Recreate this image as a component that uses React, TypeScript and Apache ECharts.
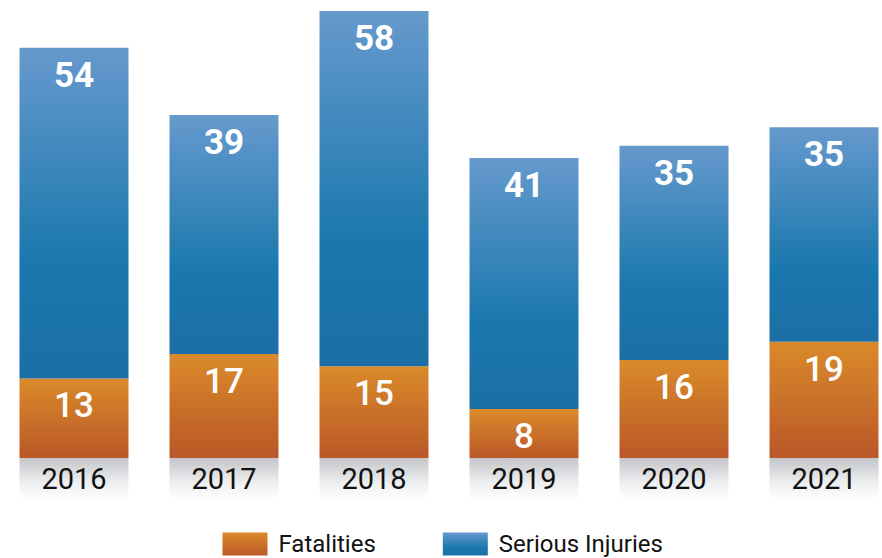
import React, { useEffect, useRef } from "react";
import * as echarts from "echarts";

const years = ["2016", "2017", "2018", "2019", "2020", "2021"];
const fatalities = [13, 17, 15, 8, 16, 19];
const seriousInjuries = [54, 39, 58, 41, 35, 35];

const FONT = "Roboto, sans-serif";

export default function App() {
  const ref = useRef<HTMLDivElement>(null);
  useEffect(() => {
    if (!ref.current) return;
    const chart = echarts.init(ref.current, null, { renderer: "svg" });
    const blue = new echarts.graphic.LinearGradient(0, 0, 0, 1, [
      { offset: 0, color: "#6699cd" },
      { offset: 0.65, color: "#1a78ae" },
      { offset: 1, color: "#1b6fa6" },
    ]);
    const orange = new echarts.graphic.LinearGradient(0, 0, 0, 1, [
      { offset: 0, color: "#da8a2a" },
      { offset: 1, color: "#ba5828" },
    ]);
    const gray = new echarts.graphic.LinearGradient(0, 0, 0, 1, [
      { offset: 0, color: "#c4c5c8" },
      { offset: 0.6, color: "#eeeff1" },
      { offset: 1, color: "#ffffff" },
    ]);
    const valueLabel = (weight: string | number) => ({
      show: true,
      position: "insideTop" as const,
      distance: 10,
      color: "#ffffff",
      fontSize: 35,
      fontWeight: weight,
      fontFamily: FONT,
    });
    chart.setOption({
      animation: false,
      grid: { left: 0, right: 0, top: 11, bottom: 100, containLabel: false },
      xAxis: {
        type: "category",
        data: years,
        axisLine: { show: false },
        axisTick: { show: false },
        axisLabel: {
          interval: 0,
          margin: 0,
          width: 109,
          height: 42,
          lineHeight: 42,
          align: "center",
          verticalAlign: "top",
          backgroundColor: gray,
          color: "#111111",
          fontSize: 29,
          fontFamily: FONT,
        },
      },
      yAxis: {
        type: "value",
        min: 0,
        max: 73,
        show: false,
        splitLine: { show: false },
      },
      legend: {
        data: ["Fatalities", "Serious Injuries"],
        left: 218.5,
        top: 527,
        icon: "rect",
        itemWidth: 45,
        itemHeight: 23,
        itemGap: 67,
        textStyle: { fontSize: 24, color: "#111111", fontFamily: FONT, padding: [0, 0, 0, 6] },
      },
      series: [
        {
          name: "Fatalities",
          type: "bar",
          stack: "total",
          barWidth: 109,
          data: fatalities,
          itemStyle: { color: orange },
          label: valueLabel(500),
        },
        {
          name: "Serious Injuries",
          type: "bar",
          stack: "total",
          barWidth: 109,
          data: seriousInjuries,
          itemStyle: { color: blue },
          label: valueLabel("bold"),
        },
      ],
    });
    return () => chart.dispose();
  }, []);
  return (
    <div style={{ width: 882, height: 558, position: "absolute", left: 0, top: 0, overflow: "hidden" }}>
      <div ref={ref} style={{ width: 900, height: 558, position: "absolute", left: -1.5, top: 0 }} />
    </div>
  );
}
